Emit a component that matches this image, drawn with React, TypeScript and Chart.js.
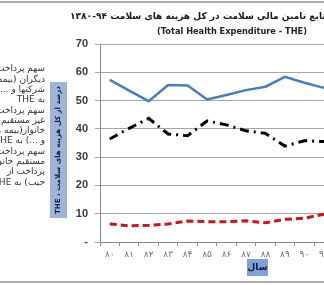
import React, { useEffect, useRef } from 'react';
import { Chart, registerables } from 'chart.js';

Chart.register(...registerables);

// Years 1380–1394 (Persian digits, last two digits)
const years = ['۸۰', '۸۱', '۸۲', '۸۳', '۸۴', '۸۵', '۸۶', '۸۷', '۸۸', '۸۹', '۹۰', '۹۱', '۹۲', '۹۳', '۹۴'];
// Direct (out-of-pocket) share of THE, %
const directShare = [57.3, 53.5, 49.8, 55.5, 55.3, 50.4, 52.0, 53.7, 54.9, 58.4, 56.3, 54.5, 55.0, 56.0, 55.0];
// Indirect household share of THE, %
const indirectShare = [36.4, 40.2, 43.7, 38.2, 37.6, 42.8, 41.4, 39.3, 38.4, 33.9, 35.8, 35.5, 34.5, 33.5, 34.0];
// Other payers share of THE, %
const otherShare = [6.4, 5.7, 5.9, 6.4, 7.4, 7.2, 7.2, 7.5, 6.8, 8.0, 8.4, 9.8, 10.2, 10.5, 11.0];

const titleVisible = 'تابع تامین مالی سلامت در کل هزینه های سلامت ۹۴-۱۳۸۰';
const titleFull = 'سهم منابع ' + titleVisible;
const subtitle = '(Total Health Expenditure - THE)';
const yTitle = 'درصد از کل هزینه های سلامت ، THE';
const xTitle = 'سال';
const legendLines = [
  'سهم پرداخت سایر پرداخت کنندگان',
  'دیگران (بیمه ها و',
  'شرکتها و ...)',
  'به THE',
  'سهم پرداخت',
  'غیر مستقیم',
  'خانوار(بیمه ها',
  'و ...) به THE',
  'سهم پرداخت',
  'مستقیم خانوار',
  'پرداخت از',
  'جیب) به THE',
];

const W = 400;
const H = 285;

export default function App() {
  const ref = useRef<HTMLCanvasElement>(null);

  useEffect(() => {
    const canvas = ref.current!;
    const decor = {
      id: 'decor',
      beforeDraw(chart: any) {
        const ctx = chart.ctx;
        ctx.save();
        ctx.fillStyle = '#ffffff';
        ctx.fillRect(0, 0, chart.width, chart.height);
        ctx.restore();
      },
      afterDraw(chart: any) {
        const ctx: CanvasRenderingContext2D = chart.ctx;
        ctx.save();
        // frame lines
        ctx.strokeStyle = '#8f8f8f';
        ctx.lineWidth = 1.5;
        ctx.beginPath();
        ctx.moveTo(0, 2);
        ctx.lineTo(chart.width, 2);
        ctx.moveTo(0, 282);
        ctx.lineTo(chart.width, 282);
        ctx.stroke();

        // title
        ctx.direction = 'rtl';
        ctx.fillStyle = '#1a1a1a';
        ctx.textBaseline = 'middle';
        ctx.font = 'bold 12px "DejaVu Sans"';
        let w = ctx.measureText(titleVisible).width;
        let size = (12 * 256) / w;
        ctx.font = `bold ${size}px "DejaVu Sans"`;
        ctx.textAlign = 'left';
        ctx.fillText(titleFull, 70, 17);

        // subtitle
        ctx.direction = 'ltr';
        ctx.font = 'bold 10px "DejaVu Sans"';
        w = ctx.measureText(subtitle).width;
        size = (10 * 150) / w;
        ctx.font = `bold ${size}px "DejaVu Sans"`;
        ctx.textAlign = 'center';
        ctx.fillStyle = '#222';
        ctx.fillText(subtitle, 232, 32);

        // legend text (cut at left edge)
        ctx.direction = 'rtl';
        ctx.textAlign = 'right';
        ctx.fillStyle = '#333';
        ctx.font = '9px "DejaVu Sans"';
        legendLines.forEach((t, i) => {
          ctx.fillText(t, 45, 69 + i * 10.3);
        });

        // y title box
        ctx.fillStyle = '#9fb5d7';
        ctx.fillRect(50, 82, 17, 136);
        ctx.save();
        ctx.translate(58.5, 150);
        ctx.rotate(-Math.PI / 2);
        ctx.font = 'bold 10px "DejaVu Sans"';
        w = ctx.measureText(yTitle).width;
        size = Math.min(10, (10 * 128) / w);
        ctx.font = `bold ${size}px "DejaVu Sans"`;
        ctx.direction = 'rtl';
        ctx.textAlign = 'center';
        ctx.textBaseline = 'middle';
        ctx.fillStyle = '#141c3a';
        ctx.fillText(yTitle, 0, 0);
        ctx.restore();

        // x title box
        ctx.fillStyle = '#7fa2d6';
        ctx.fillRect(247, 259, 21, 17);
        ctx.font = 'bold 9px "DejaVu Sans"';
        ctx.direction = 'rtl';
        ctx.textAlign = 'center';
        ctx.textBaseline = 'middle';
        ctx.fillStyle = '#141c3a';
        ctx.fillText(xTitle, 257.5, 267.5);
        ctx.restore();
      },
    };

    const chart = new Chart(canvas, {
      type: 'line',
      data: {
        labels: years,
        datasets: [
          {
            label: 'سهم پرداخت مستقیم',
            data: directShare,
            borderColor: '#4a7ebb',
            borderWidth: 2.5,
            pointRadius: 0,
            tension: 0,
            fill: false,
          },
          {
            label: 'سهم پرداخت غیر مستقیم',
            data: indirectShare,
            borderColor: '#000000',
            borderWidth: 3,
            borderDash: [9, 5, 2, 5],
            pointRadius: 0,
            tension: 0,
            fill: false,
          },
          {
            label: 'سهم پرداخت دیگران',
            data: otherShare,
            borderColor: '#c8161d',
            borderWidth: 3,
            borderDash: [7, 4],
            pointRadius: 0,
            tension: 0,
            fill: false,
          },
        ],
      },
      options: {
        responsive: false,
        animation: false,
        devicePixelRatio: 1,
        layout: { padding: { left: 0, right: 8, top: 44, bottom: 0 } },
        plugins: {
          legend: { display: false },
          tooltip: { enabled: false },
          title: { display: false },
        },
        scales: {
          x: {
            type: 'category',
            offset: true,
            grid: { offset: true, drawOnChartArea: false, tickLength: 4, color: '#8a8a8a' },
            border: { color: '#8a8a8a' },
            ticks: {
              padding: 3,
              color: '#6e6e6e',
              font: { family: 'DejaVu Sans', size: 9 },
              maxRotation: 0,
              autoSkip: false,
            },
            afterFit(s: any) {
              s.height = 43;
            },
          },
          y: {
            min: 0,
            max: 70,
            ticks: {
              stepSize: 10,
              padding: 7,
              color: '#3a3a3a',
              font: { family: 'Liberation Sans', size: 11, weight: 'bold' },
              callback: (v: any) => (v === 0 ? '-' : String(v)),
            },
            grid: { color: '#a6a6a6', tickLength: 5 },
            border: { color: '#8a8a8a' },
            afterFit(s: any) {
              s.width = 100;
            },
          },
        },
      },
      plugins: [decor],
    } as any);

    return () => chart.destroy();
  }, []);

  return (
    <div
      style={{
        position: 'fixed',
        left: 0,
        top: 0,
        width: 324,
        height: 285,
        overflow: 'hidden',
        background: '#fff',
      }}
    >
      <canvas ref={ref} width={W} height={H} style={{ display: 'block', width: W, height: H }} />
    </div>
  );
}
